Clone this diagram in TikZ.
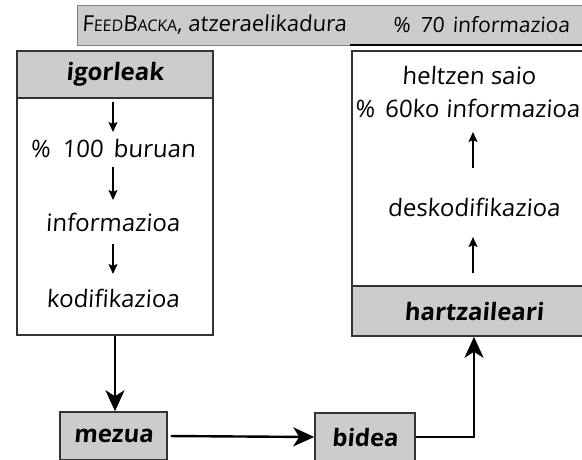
\documentclass[tikz,border=0pt]{standalone}
\usepackage{fontspec}
\setmainfont{Open Sans}[FakeSlant=0.06, BoldFeatures={FakeSlant=0.08}]
\usetikzlibrary{arrows.meta}
\definecolor{boxgray}{HTML}{CCCCCC}
\definecolor{edgegray}{HTML}{333333}
\begin{document}
\begin{tikzpicture}[x=1pt,y=-1pt,
  frame/.style={draw=edgegray,line width=1.5pt,inner sep=0pt},
  head/.style={frame,fill=boxgray,font=\fontsize{24}{26}\selectfont\bfseries},
  body/.style={inner sep=0pt,font=\fontsize{24}{26}\selectfont},
  sarr/.style={-{Stealth[length=10pt,width=9pt,inset=2pt]},line width=1.4pt},
  barr/.style={-{Stealth[length=21pt,width=19pt,inset=6pt]},line width=2.4pt}]
\useasboundingbox (0,0) rectangle (582,459);
\begin{scope}
\clip (0,0) rectangle (582,459);
% banner
\node[frame,draw=gray,line width=1pt,fill=boxgray,anchor=north west,minimum width=520pt,minimum height=40pt] (fb) at (77,5) {};
\draw[line width=1.8pt] (350,45) -- (600,45);
\node[anchor=west,inner sep=0pt,font=\fontsize{22}{24}\selectfont] (fbt) at (82,25) {F{\fontsize{16}{18}\selectfont EED}B{\fontsize{16}{18}\selectfont ACKA}, atzeraelikadura};
\node[anchor=west,inner sep=0pt,font=\fontsize{21}{24}\selectfont] (fbp) at (393,25) {\%\hspace{10pt}70\hspace{8pt}informazioa};
% left box
\node[frame,fill=white,minimum width=196pt,minimum height=284pt] (igorbox) at (115,193) {};
\node[head,minimum width=196pt,minimum height=47pt] (igor) at (115,74.5) {igorleak};
\node[body] (t1) at (113,148) {\%\hspace{12pt}100\hspace{10pt}buruan};
\node[body] (t2) at (113,222) {informazioa};
\node[body] (t3) at (113,298) {kodifikazioa};
\coordinate (a1s) at (113,102); \coordinate (a1e) at (113,132);
\coordinate (a2s) at (113,167); \coordinate (a2e) at (113,200);
\coordinate (a3s) at (113,244); \coordinate (a3e) at (113,274);
\draw[sarr] (a1s) -- (a1e);
\draw[sarr] (a2s) -- (a2e);
\draw[sarr] (a3s) -- (a3e);
% right box
\node[frame,fill=white,minimum width=244pt,minimum height=285pt] (hartzbox) at (474,193.5) {};
\node[head,minimum width=244pt,minimum height=50pt] (hartz) at (474,311) {hartzaileari};
\node[body] (t4) at (469,75) {heltzen saio};
\node[body,anchor=west] (t5) at (355,108) {\%\hspace{10pt}60ko\hspace{7pt}informazioa};
\node[body] (t6) at (474,207) {deskodifikazioa};
\coordinate (b1s) at (473,273); \coordinate (b1e) at (473,237);
\coordinate (b2s) at (473,168); \coordinate (b2e) at (473,132);
\draw[sarr] (b1s) -- (b1e);
\draw[sarr] (b2s) -- (b2e);
% bottom boxes
\node[head,minimum width=107pt,minimum height=48pt] (mezua) at (113.5,436) {mezua};
\node[head,minimum width=100pt,minimum height=48pt] (bidea) at (365,437) {bidea};
\draw[barr] (igorbox.south) -- (igorbox.south |- mezua.north);
\draw[barr,shorten <=3pt] (mezua.east) -- (bidea.west);
\draw[barr] (bidea.east) -| (hartz.south);
\end{scope}
\end{tikzpicture}
\end{document}
